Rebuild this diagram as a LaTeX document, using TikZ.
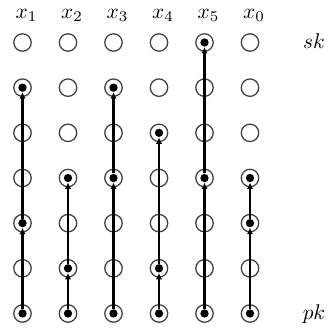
\documentclass[tikz,border=0pt]{standalone}
\usetikzlibrary{arrows.meta}
\begin{document}
\begin{tikzpicture}[x=0.47pt,y=-0.47pt,
  ring/.style={circle,draw=black!75,line width=0.6pt,minimum size=8.2pt,inner sep=0pt},
  seed/.style={circle,fill=black,minimum size=3.9pt,inner sep=0pt},
  link/.style={line width=1pt,-{Latex[length=3pt,width=3pt]}},
  lbl/.style={anchor=base,inner sep=0pt}]
\useasboundingbox (0,0) rectangle (328,332);
% grid of positions: columns x1..x5,x0, rows 1 (pk) to 7 (sk)
\foreach \c/\n in {1/1,2/2,3/3,4/4,5/5,6/0} {
  \node[lbl] (h\n) at ({22.5+45.5*(\c-1)+4},18.5) {$x_\n$};
  \foreach \r in {1,...,7}
    \node[ring] (c\c-\r) at ({22.5+45.5*(\c-1)},{313.5-45.17*(\r-1)}) {};
}
% occupied positions
\foreach \c/\r in {1/1,1/3,1/6,2/1,2/2,2/4,3/1,3/4,3/6,4/1,4/2,4/5,5/1,5/4,5/7,6/1,6/3,6/4}
  \node[seed] (d\c-\r) at (c\c-\r) {};
% chains
\foreach \c/\a/\b in {1/1/3,1/3/6,2/1/2,2/2/4,3/1/4,3/4/6,4/1/2,4/2/5,5/1/4,5/4/7,6/1/3,6/3/4}
  \draw[link] (d\c-\a) -- (d\c-\b);
\node[lbl] (sk) at (314,48) {$sk$};
\node[lbl] (pk) at (314,319) {$pk$};
\end{tikzpicture}
\end{document}
